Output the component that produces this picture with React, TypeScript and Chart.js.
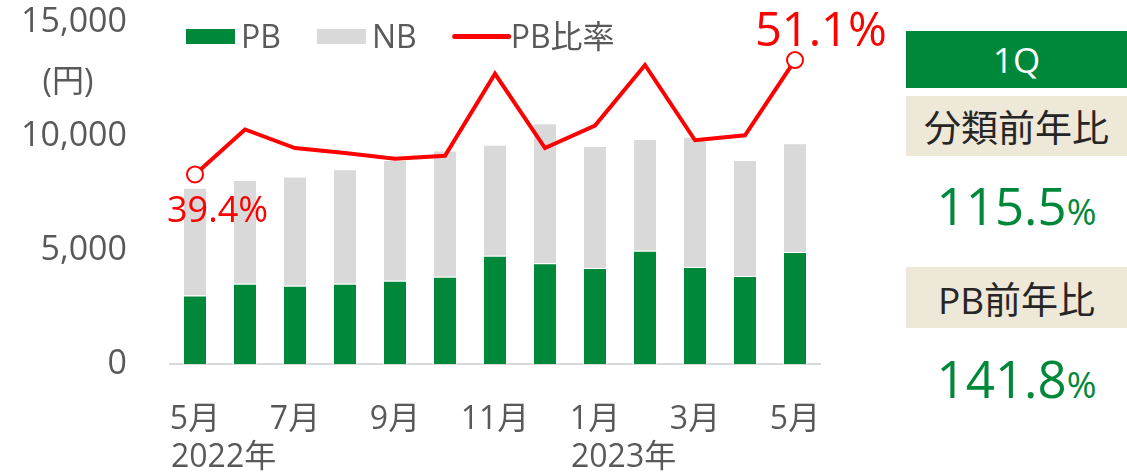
import React, { useEffect, useRef } from 'react';
import { Chart, registerables } from 'chart.js';

Chart.register(...registerables);

// ---- data ----
const months = ['5月', '6月', '7月', '8月', '9月', '10月', '11月', '12月', '1月', '2月', '3月', '4月', '5月'];
const yearTickIndex = [0, 8];
const yearTexts = ['2022年', '2023年'];
const pbValues = [3000, 3520, 3430, 3520, 3650, 3830, 4750, 4420, 4210, 4970, 4250, 3860, 4910];
const nbValues = [4730, 4550, 4790, 5020, 5300, 5530, 4870, 6140, 5350, 4900, 5720, 5090, 4770];
const pbRatio = [39.4, 44.0, 42.1, 41.6, 41.0, 41.3, 49.7, 42.1, 44.4, 50.6, 42.9, 43.4, 51.1];
const yTicks = [0, 5000, 10000, 15000];
const unitLabel = '(円)';
const panelTitle = '1Q';
const panelItems = ['分類前年比', 'PB前年比'];
const panelValues = ['115.5', '141.8'];

const GREEN = '#00883A';
const GRAY_BAR = '#D9D9D9';
const RED = '#FF0000';
const TEXT_GRAY = '#595959';
const BEIGE = '#EEE8D8';
const FONT = '"Open Sans", "Noto Sans CJK JP", sans-serif';

const overlayPlugin = {
  id: 'overlay',
  afterDraw(chart: any) {
    const { ctx } = chart;
    const xs = chart.scales.x;
    ctx.save();
    ctx.textBaseline = 'alphabetic';

    // unit label
    ctx.fillStyle = TEXT_GRAY;
    ctx.font = `32px ${FONT}`;
    ctx.textAlign = 'center';
    ctx.fillText(unitLabel, 68, 92);

    // year labels
    ctx.textAlign = 'left';
    yearTickIndex.forEach((idx, i) => {
      ctx.fillText(yearTexts[i], xs.getPixelForValue(idx) - 24, 467);
    });

    // data labels at first / last point
    const meta = chart.getDatasetMeta(2);
    const pts = meta.data;
    const first = pts[0];
    const last = pts[pts.length - 1];
    ctx.fillStyle = RED;
    ctx.font = `36px ${FONT}`;
    ctx.fillText(pbRatio[0].toFixed(1) + '%', first.x - 28, first.y + 48);
    ctx.font = `47px ${FONT}`;
    ctx.fillText(pbRatio[pbRatio.length - 1].toFixed(1) + '%', last.x - 40, last.y - 14);

    // legend
    const ds = chart.data.datasets;
    ctx.font = `32px ${FONT}`;
    let x = 186;
    const cy = 36.5;
    ds.forEach((d: any) => {
      if (d.type === 'line') {
        ctx.strokeStyle = d.borderColor;
        ctx.lineWidth = 5;
        ctx.lineCap = 'round';
        ctx.beginPath();
        ctx.moveTo(x + 2, cy);
        ctx.lineTo(x + 56, cy);
        ctx.stroke();
        x += 58;
      } else {
        ctx.fillStyle = d.backgroundColor;
        ctx.fillRect(x, 29, 49, 15);
        x += 55;
      }
      ctx.fillStyle = TEXT_GRAY;
      ctx.fillText(d.label, x, 48);
      x += ctx.measureText(d.label).width + 36;
    });
    ctx.restore();
  },
};

function ChartCanvas() {
  const ref = useRef<HTMLCanvasElement | null>(null);
  useEffect(() => {
    if (!ref.current) return;
    const chart = new Chart(ref.current, {
      type: 'bar',
      data: {
        labels: months,
        datasets: [
          {
            type: 'bar',
            label: 'PB',
            data: pbValues,
            backgroundColor: GREEN,
            borderColor: '#FFFFFF',
            borderWidth: 1,
            barPercentage: 0.48,
            categoryPercentage: 1,
            stack: 's',
            order: 2,
            yAxisID: 'y',
          },
          {
            type: 'bar',
            label: 'NB',
            data: nbValues,
            backgroundColor: GRAY_BAR,
            borderColor: '#FFFFFF',
            borderWidth: 1,
            barPercentage: 0.48,
            categoryPercentage: 1,
            stack: 's',
            order: 2,
            yAxisID: 'y',
          },
          {
            type: 'line',
            label: 'PB比率',
            data: pbRatio,
            borderColor: RED,
            borderWidth: 4,
            tension: 0,
            pointRadius: pbRatio.map((_, i) => (i === 0 || i === pbRatio.length - 1 ? 8 : 0)),
            pointBackgroundColor: '#FFFFFF',
            pointBorderColor: RED,
            pointBorderWidth: 2,
            order: 1,
            yAxisID: 'y1',
          } as any,
        ],
      },
      options: {
        responsive: false,
        animation: false,
        devicePixelRatio: 1,
        layout: { padding: { left: 0, right: 80, top: 22, bottom: 0 } },
        plugins: {
          legend: { display: false },
          tooltip: { enabled: false },
        },
        scales: {
          x: {
            stacked: true,
            grid: { display: false, drawTicks: false },
            border: { display: true, color: GRAY_BAR, width: 2 },
            ticks: {
              autoSkip: false,
              maxRotation: 0,
              padding: 37,
              color: TEXT_GRAY,
              font: { family: FONT, size: 32 },
              callback: (_v: any, i: number) => (i % 2 === 0 ? months[i] : ''),
            },
            afterFit: (s: any) => {
              s.height = 112;
            },
          },
          y: {
            stacked: true,
            min: yTicks[0],
            max: yTicks[yTicks.length - 1],
            grid: { display: false, drawTicks: false },
            border: { display: false },
            afterBuildTicks: (s: any) => {
              s.ticks = yTicks.map((v) => ({ value: v }));
            },
            ticks: {
              padding: 43,
              color: TEXT_GRAY,
              font: { family: FONT, size: 34 },
              callback: (v: any) => Number(v).toLocaleString('en-US'),
            },
            afterFit: (s: any) => {
              s.width = 170;
              s.paddingTop = 0;
              s.paddingBottom = 0;
            },
          },
          y1: {
            display: false,
            min: 20,
            max: 55,
            position: 'right',
          },
        },
      },
      plugins: [overlayPlugin],
    } as any);
    return () => chart.destroy();
  }, []);
  return <canvas ref={ref} width={900} height={476} style={{ position: 'absolute', left: 0, top: 0 }} />;
}

export default function App() {
  const boxBase: React.CSSProperties = {
    position: 'absolute',
    left: 906,
    width: 221,
    display: 'flex',
    alignItems: 'center',
    justifyContent: 'center',
    fontFamily: FONT,
  };
  const valueStyle = (top: number): React.CSSProperties => ({
    position: 'absolute',
    left: 906,
    width: 221,
    top,
    height: 51,
    lineHeight: '51px',
    textAlign: 'center',
    fontFamily: FONT,
    fontSize: 51,
    color: GREEN,
    whiteSpace: 'nowrap',
  });
  return (
    <div style={{ position: 'fixed', left: 0, top: 0, width: 1127, height: 476, background: '#fff', overflow: 'hidden' }}>
      <ChartCanvas />
      <div style={{ ...boxBase, top: 31, height: 57, background: GREEN, color: '#FFFFFF', fontSize: 35 }}>{panelTitle}</div>
      <div style={{ ...boxBase, top: 96, height: 60, background: BEIGE, color: '#262626', fontSize: 37 }}>{panelItems[0]}</div>
      <div style={valueStyle(180)}>
        {panelValues[0]}
        <span style={{ fontSize: 36 }}>%</span>
      </div>
      <div style={{ ...boxBase, top: 267, height: 61, background: BEIGE, color: '#262626', fontSize: 37 }}>{panelItems[1]}</div>
      <div style={valueStyle(353)}>
        {panelValues[1]}
        <span style={{ fontSize: 36 }}>%</span>
      </div>
    </div>
  );
}
